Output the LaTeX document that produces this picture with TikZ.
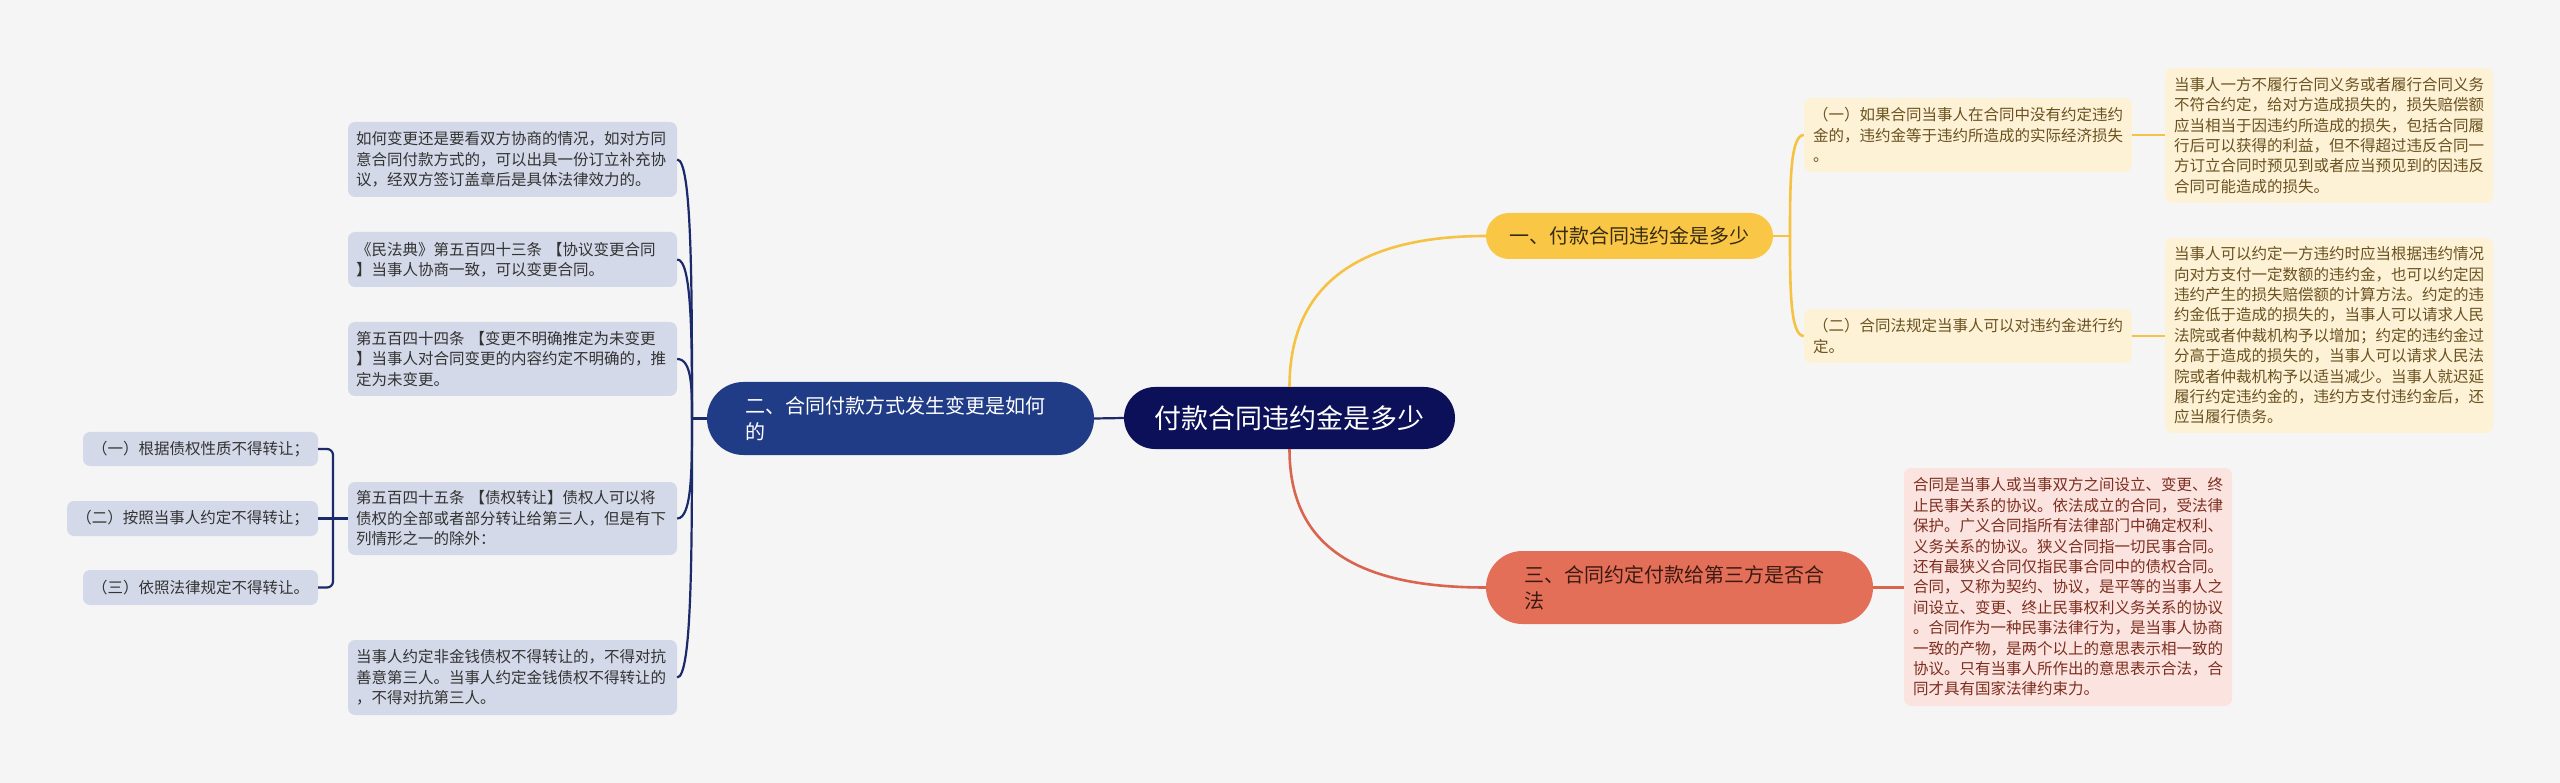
\documentclass[tikz,border=0pt]{standalone}
\usepackage{fontspec}
\setmainfont{Noto Sans CJK SC}
\definecolor{bg}{HTML}{F5F5F5}
\definecolor{cfill}{HTML}{0B1058}
\definecolor{bfill}{HTML}{213C87}
\definecolor{lfill}{HTML}{D4D9E9}
\definecolor{ltext}{HTML}{333333}
\definecolor{navy}{HTML}{1B2A6B}
\definecolor{yfill}{HTML}{F9C646}
\definecolor{yleaffill}{HTML}{FEF2D6}
\definecolor{ytext}{HTML}{6A5220}
\definecolor{yline}{HTML}{F5C243}
\definecolor{rfill}{HTML}{E46F58}
\definecolor{rleaffill}{HTML}{FBE4DF}
\definecolor{rtext}{HTML}{7E2E20}
\definecolor{rline}{HTML}{D9654F}
\definecolor{btextdark}{HTML}{3A2C10}
\definecolor{rbtext}{HTML}{3C1A12}
\tikzset{
  leafbox/.style={rounded corners=7pt, inner ysep=0pt, align=left, font=\fontsize{15.5}{20.4}\selectfont},
  lleaf/.style={leafbox, fill=lfill, text=ltext, text width=313pt, inner xsep=8pt},
  yleaf/.style={leafbox, fill=yleaffill, text=ytext, text width=310pt, inner xsep=9pt},
  rleaf/.style={leafbox, fill=rleaffill, text=rtext, text width=310pt, inner xsep=9pt},
  sleaf/.style={rounded corners=7pt, fill=lfill, text=ltext, inner sep=0pt, font=\fontsize{15.5}{20.4}\selectfont},
  branchbox/.style={inner sep=0pt, font=\fontsize{20}{26}\selectfont},
  navyline/.style={draw=navy, line width=2.2pt},
  ylinest/.style={draw=yline, line width=2.6pt},
  rlinest/.style={draw=rline, line width=2.6pt}
}
\begin{document}
\begin{tikzpicture}[x=1pt,y=-1pt]
\useasboundingbox (0,0) rectangle (2560,783);
\fill[bg] (0,0) rectangle (2560,783);

% central and branches
\node[fill=cfill, text=white, rounded corners=31pt, minimum width=331pt, minimum height=62pt, inner sep=0pt, font=\fontsize{27}{32}\selectfont] (c) at (1289.5,418) {付款合同违约金是多少};
\node[branchbox, fill=bfill, text=white, rounded corners=36.5pt, minimum width=387pt, minimum height=73pt, text width=310pt, align=left] (b2) at (900.5,418.5) {二、合同付款方式发生变更是如何\\的};
\node[branchbox, fill=yfill, text=btextdark, rounded corners=23pt, minimum width=287pt, minimum height=46pt] (b1) at (1629.5,236) {一、付款合同违约金是多少};
\node[branchbox, fill=rfill, text=rbtext, rounded corners=36.5pt, minimum width=387pt, minimum height=73pt, text width=310pt, align=left] (b3) at (1679.5,587.5) {三、合同约定付款给第三方是否合\\法};

% left leaves
\node[lleaf, minimum height=75pt] (L1) at (512.5,159.5) {如何变更还是要看双方协商的情况，如对方同\\意合同付款方式的，可以出具一份订立补充协\\议，经双方签订盖章后是具体法律效力的。};
\node[lleaf, minimum height=55pt] (L2) at (512.5,259.5) {《民法典》第五百四十三条 【协议变更合同\\】当事人协商一致，可以变更合同。};
\node[lleaf, minimum height=74pt] (L3) at (512.5,359) {第五百四十四条 【变更不明确推定为未变更\\】当事人对合同变更的内容约定不明确的，推\\定为未变更。};
\node[lleaf, minimum height=73pt] (L4) at (512.5,518.5) {第五百四十五条 【债权转让】债权人可以将\\债权的全部或者部分转让给第三人，但是有下\\列情形之一的除外：};
\node[lleaf, minimum height=75pt] (L5) at (512.5,677.5) {当事人约定非金钱债权不得转让的，不得对抗\\善意第三人。当事人约定金钱债权不得转让的\\，不得对抗第三人。};

\node[sleaf, minimum width=235pt, minimum height=34pt] (S1) at (200.5,449) {（一）根据债权性质不得转让；};
\node[sleaf, minimum width=251pt, minimum height=35pt] (S2) at (192.5,518.5) {（二）按照当事人约定不得转让；};
\node[sleaf, minimum width=235pt, minimum height=35pt] (S3) at (200.5,587.5) {（三）依照法律规定不得转让。};

% right leaves
\node[yleaf, minimum height=74pt] (R1a) at (1968,135) {（一）如果合同当事人在合同中没有约定违约\\金的，违约金等于违约所造成的实际经济损失\\。};
\node[yleaf, minimum height=135pt] (R1b) at (2329,135.5) {当事人一方不履行合同义务或者履行合同义务\\不符合约定，给对方造成损失的，损失赔偿额\\应当相当于因违约所造成的损失，包括合同履\\行后可以获得的利益，但不得超过违反合同一\\方订立合同时预见到或者应当预见到的因违反\\合同可能造成的损失。};
\node[yleaf, minimum height=54pt] (R2a) at (1968,336) {（二）合同法规定当事人可以对违约金进行约\\定。};
\node[yleaf, minimum height=195pt] (R2b) at (2329,335.5) {当事人可以约定一方违约时应当根据违约情况\\向对方支付一定数额的违约金，也可以约定因\\违约产生的损失赔偿额的计算方法。约定的违\\约金低于造成的损失的，当事人可以请求人民\\法院或者仲裁机构予以增加；约定的违约金过\\分高于造成的损失的，当事人可以请求人民法\\院或者仲裁机构予以适当减少。当事人就迟延\\履行约定违约金的，违约方支付违约金后，还\\应当履行债务。};
\node[rleaf, minimum height=238pt] (R3) at (2068,587) {合同是当事人或当事双方之间设立、变更、终\\止民事关系的协议。依法成立的合同，受法律\\保护。广义合同指所有法律部门中确定权利、\\义务关系的协议。狭义合同指一切民事合同。\\还有最狭义合同仅指民事合同中的债权合同。\\合同，又称为契约、协议，是平等的当事人之\\间设立、变更、终止民事权利义务关系的协议\\。合同作为一种民事法律行为，是当事人协商\\一致的产物，是两个以上的意思表示相一致的\\协议。只有当事人所作出的意思表示合法，合\\同才具有国家法律约束力。};

% connectors: centre
\draw[navyline] (c.west) -- (b2.east);
\draw[ylinest] (c.north) .. controls +(0,-100) and +(-130,0) .. (b1.west);
\draw[rlinest] (c.south) .. controls +(0,100) and +(-125,0) .. (b3.west);

% branch 2 to left leaves
\coordinate (sp2) at (692,418.5);
\draw[navyline] (b2.west) -- (sp2);
\foreach \n/\yy in {L1/159.5, L2/259.5, L3/359, L4/518.5, L5/677.5} {
  \draw[navyline] (sp2) .. controls (692,{(418.5+\yy)/2}) and (692,\yy) .. (\n.east);
}
% L4 to sub leaves
\draw[navyline, rounded corners=6pt] (S1.east) -| (333,518.5) |- (S3.east);
\draw[navyline] (L4.west) -- (S2.east);

% branch 1 to right leaves
\coordinate (sp1) at (1790,236);
\draw[ylinest] (b1.east) -- (sp1);
\draw[ylinest] (sp1) .. controls (1790,185) and (1790,135) .. (R1a.west);
\draw[ylinest] (sp1) .. controls (1790,286) and (1790,336) .. (R2a.west);
\draw[ylinest] (R1a.east) -- (R1a.east -| R1b.west);
\draw[ylinest] (R2a.east) -- (R2a.east -| R2b.west);

% branch 3 to leaf
\draw[rlinest] (b3.east) -- (b3.east -| R3.west);
\end{tikzpicture}
\end{document}
